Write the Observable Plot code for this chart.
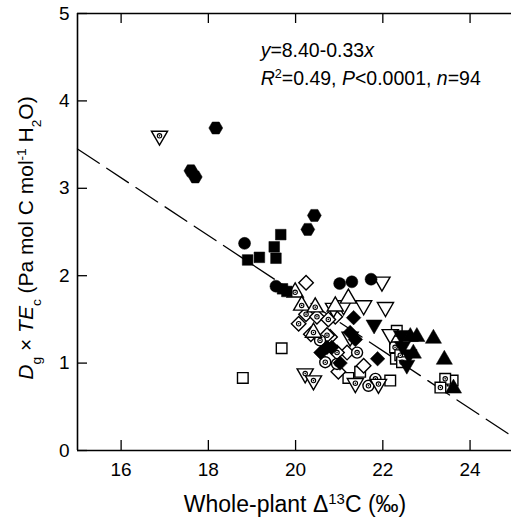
<!DOCTYPE html>
<html><head><meta charset="utf-8">
<script src="https://cdn.jsdelivr.net/npm/d3@7"></script>
<script src="https://cdn.jsdelivr.net/npm/@observablehq/plot@0.6"></script>
<style>body{margin:0;background:#fff}</style>
</head><body><div id="chart"></div>
<script>
const xTicks = [16, 18, 20, 22, 24];
const yTicks = [0, 1, 2, 3, 4, 5];
const intercept = 8.40, slope = -0.33;

const filledHexagon = [[18.17,3.69],[17.60,3.20],[17.70,3.13],[20.43,2.69],[20.28,2.53]];
const filledCircle = [[18.83,2.37],[19.55,1.88],[21.01,1.91],[21.29,1.93],[21.73,1.96]];
const filledSquare = [[19.66,2.47],[19.51,2.33],[19.55,2.20],[19.17,2.21],[18.90,2.18],[19.70,1.85],[19.80,1.82]];
const filledDiamond = [[21.33,1.52],[21.37,1.27],[21.88,1.05],[21.02,1.00],[20.83,1.18],[20.58,1.12],[20.72,1.18],[21.25,1.35]];
const filledTriUp = [[22.63,1.30],[22.78,1.30],[23.16,1.28],[23.41,1.04],[22.70,1.11],[23.62,0.71]];
const filledTriDown = [[21.80,1.44],[22.42,1.32],[22.45,1.19],[22.55,0.98],[22.60,1.10]];
const openTriDown = [[21.98,1.93],[21.56,1.66],[22.06,1.64],[20.87,1.63],[21.10,1.66],[22.17,1.33],[21.25,1.30]];
const openTriUp = [[21.21,1.74],[20.91,1.65]];
const openDiamond = [[20.24,1.92],[20.91,1.53],[21.18,1.12],[20.98,0.90],[21.56,0.97],[20.79,1.30]];
const openDiamondDot = [[20.07,1.45],[20.24,1.56],[20.49,1.53],[20.75,1.50],[20.35,1.33],[20.72,1.32],[20.95,1.12]];
const openTriUpDot = [[19.99,1.81],[20.14,1.66],[20.45,1.64],[20.41,1.35]];
const openTriDownDot = [[16.88,3.60],[20.22,0.88],[20.41,0.80],[21.37,0.77],[21.90,0.76]];
const openCircleDot = [[20.56,1.26],[20.68,1.01],[21.41,1.12],[21.67,0.74],[21.83,0.82],[20.95,0.99]];
const openSquare = [[19.68,1.17],[18.79,0.83],[21.48,0.90],[21.21,0.83],[22.17,0.80],[22.32,1.37],[23.60,0.80],[22.30,1.05]];
const openSquareDot = [[22.28,1.18],[22.40,1.09],[22.44,1.01],[23.43,0.82],[23.32,0.72]];

const W = 511, H = 523, mL = 77, mT = 13, mB = 73;
const xDomain = [15, 24.95];
const yDomain = [0, 5];
const pxPerX = (W - mL) / (xDomain[1] - xDomain[0]);
const pxPerY = (H - mT - mB) / (yDomain[1] - yDomain[0]);
const tickLen = 10;

const X = d => d[0], Y = d => d[1];
const openStyle = {x: X, y: Y, r: 6, fill: "white", stroke: "black", strokeWidth: 1.4};
const filledStyle = {x: X, y: Y, r: 6, fill: "black", stroke: "black", strokeWidth: 0.5};
const dotMarks = arr => [
  Plot.dot(arr, {x: X, y: Y, r: 2.2, fill: "white", stroke: "black", strokeWidth: 1.1}),
  Plot.dot(arr, {x: X, y: Y, r: 0.8, fill: "black"})
];

const fig = Plot.plot({
  width: W, height: H,
  marginLeft: mL, marginRight: 0, marginTop: mT, marginBottom: mB,
  style: {fontFamily: "'Liberation Sans', Arial, sans-serif", fontSize: "19px", background: "white", color: "black"},
  x: {domain: xDomain},
  y: {domain: yDomain},
  marks: [
    Plot.line(xDomain.map(x => [x, intercept + slope * x]), {x: X, y: Y, stroke: "black", strokeWidth: 1.3, strokeDasharray: "26,9"}),
    Plot.dot(openSquare, {...openStyle, symbol: "square"}),
    Plot.dot(openSquareDot, {...openStyle, symbol: "square"}),
    ...dotMarks(openSquareDot),
    Plot.dot(openDiamond, {...openStyle, symbol: "square", rotate: 45, r: 5.8}),
    Plot.dot(openDiamondDot, {...openStyle, symbol: "square", rotate: 45, r: 5.8}),
    ...dotMarks(openDiamondDot),
    Plot.dot(openCircleDot, {...openStyle, symbol: "circle", r: 5.5}),
    ...dotMarks(openCircleDot),
    Plot.dot(openTriDown, {...openStyle, symbol: "triangle", rotate: 180}),
    Plot.dot(openTriDownDot, {...openStyle, symbol: "triangle", rotate: 180}),
    ...dotMarks(openTriDownDot),
    Plot.dot(openTriUp, {...openStyle, symbol: "triangle"}),
    Plot.dot(openTriUpDot, {...openStyle, symbol: "triangle"}),
    ...dotMarks(openTriUpDot),
    Plot.dot(filledSquare, {...filledStyle, symbol: "square"}),
    Plot.dot(filledDiamond, {...filledStyle, symbol: "square", rotate: 45, r: 5.8}),
    Plot.dot(filledTriUp, {...filledStyle, symbol: "triangle"}),
    Plot.dot(filledTriDown, {...filledStyle, symbol: "triangle", rotate: 180}),
    Plot.dot(filledCircle, {...filledStyle, symbol: "circle"}),
    Plot.dot(filledHexagon, {...filledStyle, symbol: "hexagon", rotate: 90}),
    // frame
    Plot.ruleX([xDomain[0]], {stroke: "black", strokeWidth: 1.6}),
    Plot.ruleY(yDomain, {stroke: "black", strokeWidth: 1.6}),
    // inward ticks
    Plot.ruleX(xTicks, {x: d => d, y1: yDomain[0], y2: yDomain[0] + tickLen / pxPerY, stroke: "black", strokeWidth: 1.3}),
    Plot.ruleX(xTicks, {x: d => d, y1: yDomain[1], y2: yDomain[1] - tickLen / pxPerY, stroke: "black", strokeWidth: 1.3}),
    Plot.ruleY(yTicks, {y: d => d, x1: xDomain[0], x2: xDomain[0] + tickLen / pxPerX, stroke: "black", strokeWidth: 1.3}),
    Plot.axisX({ticks: xTicks, tickSize: 0, tickPadding: 12, label: null, tickFormat: d => String(d)}),
    Plot.axisY({ticks: yTicks, tickSize: 0, tickPadding: 8, label: null, tickFormat: d => String(d)})
  ]
});

const svg = d3.select(fig);
const font = "'Liberation Sans', Arial, sans-serif";
function rich(g, parts) {
  for (const p of parts) {
    const t = g.append("tspan").text(p.t);
    if (p.i) t.attr("font-style", "italic");
    if (p.sup) t.attr("font-size", "0.65em").attr("baseline-shift", "super");
    if (p.sub) t.attr("font-size", "0.65em").attr("baseline-shift", "sub");
  }
}
const xs = fig.scale("x"), ys = fig.scale("y");
const annX = 19.21;
const eq = svg.append("text").attr("x", xs.apply(annX)).attr("y", ys.apply(4.50)).attr("text-anchor", "start")
  .attr("font-family", font).attr("font-size", 19.5).attr("fill", "black");
rich(eq, [{t: "y", i: 1}, {t: "=8.40-0.33"}, {t: "x", i: 1}]);
const st = svg.append("text").attr("x", xs.apply(annX)).attr("y", ys.apply(4.18)).attr("text-anchor", "start")
  .attr("font-family", font).attr("font-size", 19.5).attr("fill", "black");
rich(st, [{t: "R", i: 1}, {t: "2", sup: 1}, {t: "=0.49, "}, {t: "P", i: 1}, {t: "<0.0001, "}, {t: "n", i: 1}, {t: "=94"}]);

const xt = svg.append("text").attr("x", 295).attr("y", 512).attr("text-anchor", "middle")
  .attr("font-family", font).attr("font-size", 23).attr("fill", "black");
rich(xt, [{t: "Whole-plant Δ"}, {t: "13", sup: 1}, {t: "C (‰)"}]);

const yt = svg.append("text").attr("transform", "translate(33,238) rotate(-90)").attr("text-anchor", "middle")
  .attr("font-family", font).attr("font-size", 21).attr("fill", "black");
rich(yt, [{t: "D", i: 1}, {t: "g", sub: 1}, {t: " × "}, {t: "TE", i: 1}, {t: "c", sub: 1}, {t: " (Pa mol C mol"}, {t: "-1", sup: 1}, {t: " H"}, {t: "2", sub: 1}, {t: "O)"}]);

document.getElementById("chart").appendChild(fig);
</script>
</body></html>
